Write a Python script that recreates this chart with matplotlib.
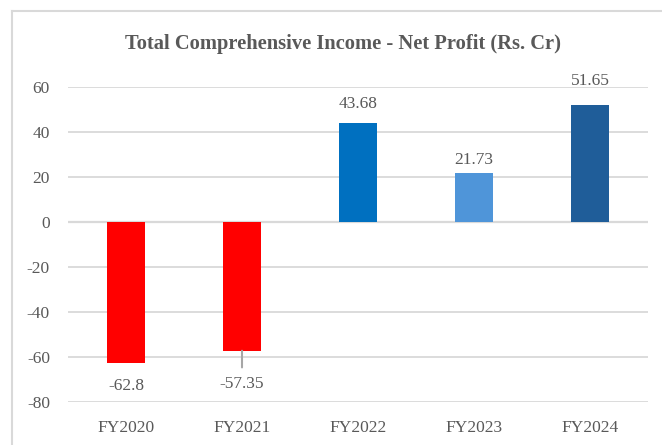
import matplotlib
matplotlib.use("Agg")
import matplotlib.pyplot as plt
from matplotlib.lines import Line2D

categories = ["FY2020", "FY2021", "FY2022", "FY2023", "FY2024"]
values = [-62.8, -57.35, 43.68, 21.73, 51.65]
value_labels = ["-62.8", "-57.35", "43.68", "21.73", "51.65"]
colors = ["#FF0000", "#FF0000", "#0070C0", "#4F95D9", "#1F5D99"]
# label offsets in points (vertical, from bar end)
label_offsets = [-16.5, -24, 14, 9, 17.5]
yticks = [-80, -60, -40, -20, 0, 20, 40, 60]

plt.rcParams['font.family'] = ['Liberation Serif', 'DejaVu Serif']
txt = "#595959"
grid = "#D9D9D9"

fig = plt.figure(figsize=(6.62, 4.45), dpi=100)
ax = fig.add_axes([68/662, 1 - 401.7/445, 580/662, 315/445])

x = list(range(len(categories)))
ax.bar(x, values, width=0.32, color=colors, zorder=3)
ax.set_xlim(-0.5, len(categories) - 0.5)
ax.set_ylim(-80, 60)
ax.set_yticks(yticks)
ax.set_yticklabels([str(t) for t in yticks])
ax.set_xticks(x)
ax.set_xticklabels(categories)
for t in yticks:
    ax.axhline(t, color=grid, lw=1.3 if t != 0 else 1.6, zorder=1)
for s in ax.spines.values():
    s.set_visible(False)
ax.tick_params(axis='both', length=0, labelsize=12.5, labelcolor=txt)
ax.tick_params(axis='y', pad=13)
ax.tick_params(axis='x', pad=13)

for i, (v, lab, off) in enumerate(zip(values, value_labels, label_offsets)):
    ax.annotate(lab, (i, v), xytext=(0, off), textcoords='offset points',
                ha='center', va='center', fontsize=12.5, color=txt, zorder=4)

# leader line for FY2021 label
ax.annotate("", (1, values[1]), xytext=(0, -12), textcoords='offset points',
            arrowprops=dict(arrowstyle='-', color='#A6A6A6', lw=1.5,
                            shrinkA=0, shrinkB=0))

fig.text(343/662, 1 - 44/445, "Total Comprehensive Income - Net Profit (Rs. Cr)",
         ha='center', va='center', fontsize=14.8, fontweight='bold', color=txt)

# chart area border (top and left edges visible)
fig.add_artist(Line2D([12/662, 12/662], [0, 1 - 11/445], transform=fig.transFigure,
                      color=grid, lw=1.5))
fig.add_artist(Line2D([12/662, 1], [1 - 11/445, 1 - 11/445], transform=fig.transFigure,
                      color=grid, lw=1.5))

fig.savefig("out.png", dpi=100)
